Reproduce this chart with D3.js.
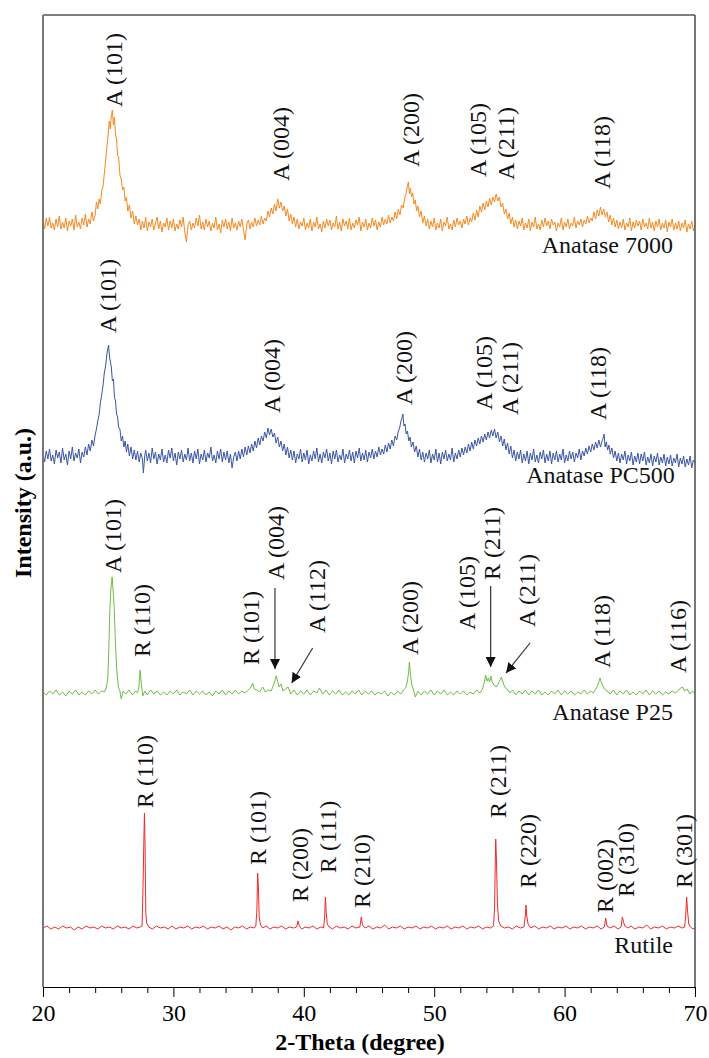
<!DOCTYPE html>
<html>
<head>
<meta charset="utf-8">
<script src="https://cdn.jsdelivr.net/npm/d3@7"></script>
<style>
  body { margin: 0; background: #fff; }
  text { font-family: "Liberation Serif", "Times New Roman", serif; }
</style>
</head>
<body>
<div id="chart"></div>
<script>
// 2-theta (degree) and intensity (a.u., already stacked)
const anatase7000 = [
[20,767],[20.125,758],[20.25,769],[20.375,761],[20.5,770],[20.625,759],[20.75,764],[20.875,757],[21,768],[21.125,760],
[21.25,771],[21.375,758],[21.5,765],[21.625,759],[21.75,769],[21.875,756],[22,766],[22.125,761],[22.25,768],[22.375,757],
[22.5,772],[22.625,760],[22.75,765],[22.875,758],[23,769],[23.125,762],[23.25,773],[23.375,760],[23.5,768],[23.625,763],
[23.75,775],[23.875,766],[24,772],[24.1,785],[24.2,778],[24.3,788],[24.4,783],[24.5,796],[24.6,800],[24.7,813],
[24.8,826],[24.9,840],[25,853],[25.08,866],[25.16,858],[25.24,871],[25.32,877],[25.4,862],[25.48,870],[25.56,852],
[25.64,848],[25.72,832],[25.8,830],[25.9,812],[26,808],[26.1,797],[26.2,800],[26.3,786],[26.4,790],[26.5,776],
[26.625,782],[26.75,769],[26.875,776],[27,763],[27.125,771],[27.25,762],[27.375,768],[27.5,757],[27.625,766],[27.75,759],
[27.875,770],[28,756],[28.125,765],[28.25,760],[28.375,768],[28.5,757],[28.625,764],[28.75,770],[28.875,758],[29,766],
[29.125,755],[29.25,764],[29.375,760],[29.5,769],[29.625,757],[29.75,766],[29.875,759],[30,768],[30.125,756],[30.25,763],
[30.375,758],[30.5,767],[30.625,760],[30.75,770],[30.875,755],[31,745],[31.125,762],[31.25,766],[31.375,757],[31.5,764],
[31.625,759],[31.75,769],[31.875,761],[32,772],[32.125,758],[32.25,765],[32.375,757],[32.5,768],[32.625,760],[32.75,766],
[32.875,756],[33,764],[33.125,759],[33.25,770],[33.375,757],[33.5,763],[33.625,754],[33.75,767],[33.875,760],[34,768],
[34.125,758],[34.25,765],[34.375,756],[34.5,769],[34.625,759],[34.75,764],[34.875,757],[35,766],[35.125,760],[35.25,768],
[35.375,757],[35.5,747],[35.625,763],[35.75,767],[35.875,758],[36,765],[36.125,760],[36.25,769],[36.375,761],[36.5,767],
[36.625,762],[36.75,771],[36.875,763],[37,769],[37.125,766],[37.25,776],[37.375,770],[37.5,779],[37.625,773],[37.75,783],
[37.875,776],[38,788],[38.125,779],[38.25,785],[38.375,776],[38.5,781],[38.625,771],[38.75,778],[38.875,766],[39,773],
[39.125,763],[39.25,770],[39.375,760],[39.5,768],[39.625,758],[39.75,765],[39.875,761],[40,769],[40.125,757],[40.25,764],
[40.375,759],[40.5,768],[40.625,756],[40.75,765],[40.875,760],[41,770],[41.125,758],[41.25,763],[41.375,755],[41.5,766],
[41.625,759],[41.75,768],[41.875,761],[42,767],[42.125,757],[42.25,764],[42.375,760],[42.5,771],[42.625,758],[42.75,765],
[42.875,756],[43,768],[43.125,761],[43.25,766],[43.375,758],[43.5,769],[43.625,757],[43.75,764],[43.875,759],[44,767],
[44.125,762],[44.25,770],[44.375,756],[44.5,765],[44.625,760],[44.75,768],[44.875,757],[45,764],[45.125,759],[45.25,769],
[45.375,761],[45.5,767],[45.625,757],[45.75,765],[45.875,760],[46,770],[46.125,762],[46.25,768],[46.375,763],[46.5,772],
[46.625,764],[46.75,770],[46.875,766],[47,775],[47.125,768],[47.25,778],[47.375,772],[47.5,782],[47.625,779],[47.75,790],
[47.85,794],[47.95,801],[48.02,805],[48.1,793],[48.18,799],[48.26,790],[48.35,794],[48.45,783],[48.55,787],[48.65,776],
[48.75,781],[48.875,770],[49,776],[49.125,764],[49.25,771],[49.375,761],[49.5,768],[49.625,758],[49.75,766],[49.875,760],
[50,769],[50.125,757],[50.25,764],[50.375,759],[50.5,768],[50.625,756],[50.75,765],[50.875,761],[51,770],[51.125,758],
[51.25,763],[51.375,757],[51.5,767],[51.625,760],[51.75,769],[51.875,762],[52,766],[52.125,759],[52.25,768],[52.375,763],
[52.5,771],[52.625,762],[52.75,769],[52.875,765],[53,774],[53.125,767],[53.25,777],[53.375,770],[53.5,781],[53.625,775],
[53.75,784],[53.875,777],[54,786],[54.125,780],[54.25,789],[54.375,782],[54.5,790],[54.625,785],[54.75,793],[54.875,786],
[55,790],[55.125,780],[55.25,784],[55.375,773],[55.5,778],[55.625,768],[55.75,774],[55.875,763],[56,770],[56.125,760],
[56.25,767],[56.375,758],[56.5,766],[56.625,761],[56.75,769],[56.875,757],[57,764],[57.125,759],[57.25,768],[57.375,756],
[57.5,765],[57.625,760],[57.75,770],[57.875,758],[58,763],[58.125,757],[58.25,767],[58.375,760],[58.5,769],[58.625,761],
[58.75,766],[58.875,758],[59,768],[59.125,762],[59.25,765],[59.375,756],[59.5,764],[59.625,760],[59.75,769],[59.875,757],
[60,765],[60.125,760],[60.25,768],[60.375,758],[60.5,764],[60.625,761],[60.75,770],[60.875,759],[61,766],[61.125,762],
[61.25,768],[61.375,760],[61.5,767],[61.625,763],[61.75,771],[61.875,764],[62,769],[62.125,766],[62.25,775],[62.375,768],
[62.5,777],[62.625,771],[62.75,780],[62.875,772],[63,778],[63.125,770],[63.25,775],[63.375,765],[63.5,772],[63.625,762],
[63.75,769],[63.875,760],[64,767],[64.125,758],[64.25,765],[64.375,759],[64.5,768],[64.625,757],[64.75,764],[64.875,760],
[65,769],[65.125,756],[65.25,765],[65.375,759],[65.5,767],[65.625,761],[65.75,766],[65.875,757],[66,768],[66.125,760],
[66.25,764],[66.375,758],[66.5,769],[66.625,759],[66.75,765],[66.875,756],[67,766],[67.125,760],[67.25,768],[67.375,757],
[67.5,764],[67.625,759],[67.75,767],[67.875,755],[68,765],[68.125,760],[68.25,768],[68.375,757],[68.5,764],[68.625,758],
[68.75,766],[68.875,756],[69,764],[69.125,759],[69.25,767],[69.375,755],[69.5,763],[69.625,758],[69.75,766],[69.875,756],
[70,762]
];

const anatasePC500 = [
[20,534],[20.125,525],[20.25,536],[20.375,528],[20.5,538],[20.625,526],[20.75,532],[20.875,523],[21,537],[21.125,529],
[21.25,535],[21.375,524],[21.5,539],[21.625,527],[21.75,533],[21.875,522],[22,536],[22.125,528],[22.25,540],[22.375,526],
[22.5,534],[22.625,529],[22.75,538],[22.875,524],[23,535],[23.125,530],[23.25,540],[23.375,532],[23.5,543],[23.625,536],
[23.75,547],[23.875,541],[24,552],[24.1,558],[24.2,566],[24.3,572],[24.4,584],[24.5,592],[24.6,601],[24.7,614],
[24.8,621],[24.9,633],[24.97,638],[25.03,642],[25.1,630],[25.17,625],[25.24,620],[25.32,606],[25.4,608],[25.48,590],
[25.56,586],[25.64,573],[25.72,570],[25.8,560],[25.9,558],[26,546],[26.1,551],[26.2,540],[26.3,546],[26.4,535],
[26.5,543],[26.625,531],[26.75,540],[26.875,528],[27,537],[27.125,527],[27.25,536],[27.375,525],[27.5,534],[27.625,528],
[27.7,514],[27.8,531],[27.875,537],[28,526],[28.125,534],[28.25,524],[28.375,539],[28.5,528],[28.625,535],[28.75,523],
[28.875,533],[29,527],[29.125,538],[29.25,525],[29.375,532],[29.5,524],[29.625,537],[29.75,529],[29.875,539],[30,526],
[30.125,534],[30.25,522],[30.375,535],[30.5,528],[30.625,537],[30.75,525],[30.875,533],[31,527],[31.125,539],[31.25,526],
[31.375,534],[31.5,524],[31.625,536],[31.75,528],[31.875,538],[32,523],[32.125,533],[32.25,527],[32.375,537],[32.5,525],
[32.625,534],[32.75,529],[32.875,540],[33,526],[33.125,532],[33.25,524],[33.375,536],[33.5,528],[33.625,538],[33.75,525],
[33.875,535],[34,527],[34.125,536],[34.25,524],[34.375,533],[34.5,519],[34.625,530],[34.75,535],[34.875,526],[35,536],
[35.125,528],[35.25,538],[35.375,530],[35.5,540],[35.625,532],[35.75,541],[35.875,534],[36,543],[36.125,536],[36.25,546],
[36.375,539],[36.5,549],[36.625,542],[36.75,551],[36.875,546],[37,555],[37.125,549],[37.25,559],[37.375,552],[37.5,558],
[37.625,550],[37.75,554],[37.875,544],[38,550],[38.125,540],[38.25,546],[38.375,536],[38.5,543],[38.625,532],[38.75,540],
[38.875,529],[39,537],[39.125,527],[39.25,536],[39.375,524],[39.5,533],[39.625,528],[39.75,538],[39.875,525],[40,534],
[40.125,527],[40.25,537],[40.375,523],[40.5,532],[40.625,526],[40.75,536],[40.875,528],[41,539],[41.125,525],[41.25,533],
[41.375,524],[41.5,535],[41.625,529],[41.75,538],[41.875,526],[42,534],[42.125,523],[42.25,536],[42.375,528],[42.5,537],
[42.625,525],[42.75,532],[42.875,527],[43,538],[43.125,524],[43.25,533],[43.375,528],[43.5,537],[43.625,526],[43.75,535],
[43.875,524],[44,536],[44.125,529],[44.25,539],[44.375,526],[44.5,534],[44.625,527],[44.75,537],[44.875,525],[45,535],
[45.125,529],[45.25,538],[45.375,528],[45.5,536],[45.625,530],[45.75,540],[45.875,532],[46,538],[46.125,533],[46.25,542],
[46.375,535],[46.5,544],[46.625,538],[46.75,547],[46.875,541],[47,551],[47.125,547],[47.25,556],[47.35,559],[47.45,566],
[47.53,569],[47.6,573],[47.68,561],[47.76,563],[47.85,553],[47.95,556],[48.05,546],[48.15,550],[48.25,540],[48.375,545],
[48.5,535],[48.625,541],[48.75,530],[48.875,538],[49,527],[49.125,535],[49.25,525],[49.375,534],[49.5,528],[49.625,537],
[49.75,524],[49.875,533],[50,527],[50.125,538],[50.25,525],[50.375,534],[50.5,523],[50.625,535],[50.75,528],[50.875,537],
[51,526],[51.125,533],[51.25,527],[51.375,539],[51.5,525],[51.625,534],[51.75,528],[51.875,537],[52,530],[52.125,539],
[52.25,532],[52.375,540],[52.5,534],[52.625,543],[52.75,536],[52.875,545],[53,538],[53.125,547],[53.25,541],[53.375,549],
[53.5,543],[53.625,551],[53.75,545],[53.875,553],[54,547],[54.125,555],[54.25,549],[54.375,557],[54.5,551],[54.625,558],
[54.75,549],[54.875,555],[55,545],[55.125,551],[55.25,541],[55.375,548],[55.5,537],[55.625,544],[55.75,533],[55.875,541],
[56,529],[56.125,537],[56.25,526],[56.375,535],[56.5,528],[56.625,537],[56.75,524],[56.875,533],[57,526],[57.125,536],
[57.25,523],[57.375,534],[57.5,527],[57.625,538],[57.75,525],[57.875,532],[58,524],[58.125,535],[58.25,528],[58.375,537],
[58.5,524],[58.625,533],[58.75,526],[58.875,536],[59,523],[59.125,534],[59.25,527],[59.375,536],[59.5,525],[59.625,533],
[59.75,527],[59.875,538],[60,524],[60.125,532],[60.25,526],[60.375,536],[60.5,528],[60.625,535],[60.75,525],[60.875,534],
[61,529],[61.125,538],[61.25,527],[61.375,536],[61.5,531],[61.625,539],[61.75,533],[61.875,541],[62,535],[62.125,543],
[62.25,537],[62.375,545],[62.5,539],[62.625,547],[62.75,540],[62.875,546],[62.96,549],[63.03,553],[63.1,540],[63.2,545],
[63.3,537],[63.4,542],[63.5,533],[63.625,539],[63.75,529],[63.875,536],[64,526],[64.125,534],[64.25,524],[64.375,533],
[64.5,527],[64.625,536],[64.75,523],[64.875,532],[65,526],[65.125,535],[65.25,522],[65.375,531],[65.5,525],[65.625,534],
[65.75,523],[65.875,533],[66,526],[66.125,535],[66.25,522],[66.375,530],[66.5,524],[66.625,533],[66.75,521],[66.875,531],
[67,525],[67.125,534],[67.25,522],[67.375,530],[67.5,524],[67.625,533],[67.75,521],[67.875,530],[68,523],[68.125,532],
[68.25,521],[68.375,529],[68.5,524],[68.625,533],[68.75,520],[68.875,529],[69,523],[69.125,531],[69.25,520],[69.375,528],
[69.5,522],[69.625,531],[69.75,519],[69.875,527],[70,524]
];

const anataseP25 = [
[20,295],[20.25,292],[20.5,296],[20.75,293],[21,297],[21.25,292],[21.5,295],[21.75,291],[22,296],[22.25,293],
[22.5,297],[22.75,292],[23,295],[23.25,292],[23.5,296],[23.75,293],[24,297],[24.25,293],[24.5,296],[24.7,295],
[24.85,299],[24.97,308],[25.05,340],[25.12,374],[25.2,397],[25.3,410],[25.38,396],[25.46,380],[25.55,345],[25.65,318],
[25.78,300],[25.9,296],[26,288],[26.15,296],[26.35,293],[26.6,297],[26.85,292],[27.1,296],[27.25,294],[27.35,300],
[27.45,317],[27.55,302],[27.65,291],[27.8,296],[28,292],[28.25,297],[28.5,293],[28.75,296],[29,292],[29.25,295],
[29.5,292],[29.75,296],[30,293],[30.25,297],[30.5,292],[30.75,295],[31,293],[31.25,297],[31.5,292],[31.75,296],
[32,293],[32.25,296],[32.5,292],[32.75,295],[33,291],[33.25,296],[33.5,293],[33.75,297],[34,292],[34.25,296],
[34.5,293],[34.75,297],[35,293],[35.25,296],[35.5,294],[35.75,297],[35.92,299],[36.08,304],[36.2,298],[36.4,297],
[36.6,295],[36.85,300],[37.05,295],[37.3,297],[37.5,296],[37.65,301],[37.78,306],[37.87,311],[37.97,307],[38.1,300],
[38.25,303],[38.4,296],[38.6,298],[38.8,300],[39,293],[39.25,297],[39.5,292],[39.75,296],[40,293],[40.25,297],
[40.5,292],[40.75,296],[41,294],[41.2,299],[41.45,293],[41.7,297],[41.95,292],[42.2,296],[42.45,293],[42.7,297],
[42.95,292],[43.2,295],[43.45,292],[43.7,296],[43.95,293],[44.2,297],[44.45,292],[44.7,296],[44.95,293],[45.2,296],
[45.45,292],[45.7,295],[45.95,293],[46.2,296],[46.45,291],[46.7,295],[46.95,292],[47.2,296],[47.45,293],[47.65,297],
[47.82,299],[47.95,306],[48.03,314],[48.1,325],[48.18,313],[48.28,302],[48.4,298],[48.55,290],[48.75,296],[49,292],
[49.25,296],[49.5,293],[49.75,297],[50,292],[50.25,296],[50.5,293],[50.75,297],[51,292],[51.25,295],[51.5,292],
[51.75,296],[52,293],[52.25,296],[52.5,292],[52.75,295],[53,293],[53.25,297],[53.5,294],[53.7,298],[53.85,305],
[53.95,312],[54.05,306],[54.15,309],[54.25,305],[54.35,311],[54.45,305],[54.6,302],[54.75,300],[54.9,303],[55.05,307],
[55.15,310],[55.25,306],[55.4,300],[55.6,298],[55.8,294],[56,297],[56.25,292],[56.5,296],[56.75,293],[57,297],
[57.25,292],[57.5,296],[57.75,293],[58,297],[58.25,292],[58.5,295],[58.75,292],[59,296],[59.25,293],[59.5,297],
[59.75,292],[60,296],[60.25,293],[60.5,296],[60.75,292],[61,295],[61.25,293],[61.5,297],[61.75,293],[62,296],
[62.2,294],[62.4,298],[62.55,302],[62.65,306],[62.72,309],[62.8,305],[62.92,302],[63.05,298],[63.25,296],[63.5,293],
[63.75,297],[64,292],[64.25,296],[64.5,293],[64.75,297],[65,292],[65.25,295],[65.5,292],[65.75,296],[66,293],
[66.25,297],[66.5,292],[66.75,296],[67,293],[67.25,296],[67.5,292],[67.75,295],[68,293],[68.25,296],[68.5,294],
[68.75,297],[68.9,299],[69.05,300],[69.2,296],[69.4,298],[69.6,293],[69.8,296],[70,294]
];

const rutile = [
[20,59],[20.3,61],[20.6,58],[20.9,60],[21.2,58],[21.5,61],[21.8,59],[22.1,60],[22.4,57],[22.7,60],
[23,58],[23.3,61],[23.6,59],[23.9,60],[24.2,58],[24.5,61],[24.8,59],[25.1,60],[25.4,58],[25.7,61],
[26,59],[26.3,60],[26.6,58],[26.9,61],[27.2,59],[27.45,60],[27.6,61],[27.68,107],[27.74,150],[27.78,174],
[27.83,140],[27.88,75],[27.95,64],[28.1,60],[28.4,58],[28.7,61],[29,59],[29.3,60],[29.6,58],[29.9,61],
[30.2,58],[30.5,60],[30.8,59],[31.1,61],[31.4,58],[31.7,60],[32,59],[32.3,61],[32.6,58],[32.9,60],
[33.2,59],[33.5,61],[33.8,58],[34.1,60],[34.4,57],[34.7,60],[35,59],[35.3,61],[35.6,58],[35.9,60],
[36.2,59],[36.32,61],[36.4,76],[36.46,114],[36.52,100],[36.58,70],[36.68,62],[36.85,59],[37.1,61],[37.4,58],
[37.7,60],[38,59],[38.3,61],[38.6,58],[38.9,60],[39.2,59],[39.45,60],[39.56,66],[39.66,61],[39.85,58],
[40.1,60],[40.4,59],[40.7,61],[41,58],[41.3,60],[41.52,59],[41.6,70],[41.66,90],[41.72,74],[41.8,63],
[41.95,60],[42.2,58],[42.5,61],[42.8,59],[43.1,60],[43.4,58],[43.7,61],[44,59],[44.3,60],[44.41,70],
[44.5,62],[44.7,59],[45,61],[45.3,58],[45.6,60],[45.9,59],[46.2,62],[46.5,58],[46.8,60],[47.1,59],
[47.4,61],[47.7,58],[48,60],[48.3,59],[48.6,61],[48.9,58],[49.2,60],[49.5,59],[49.8,61],[50.1,58],
[50.4,60],[50.7,59],[51,61],[51.3,58],[51.6,60],[51.9,59],[52.2,61],[52.5,58],[52.8,60],[53.1,59],
[53.4,61],[53.7,58],[54,60],[54.3,59],[54.55,61],[54.63,80],[54.68,122],[54.72,148],[54.78,125],[54.85,82],
[54.95,66],[55.1,61],[55.4,59],[55.7,60],[56,58],[56.3,61],[56.6,59],[56.88,60],[56.98,70],[57.04,82],
[57.1,71],[57.2,63],[57.4,59],[57.7,61],[58,58],[58.3,60],[58.6,59],[58.9,61],[59.2,58],[59.5,60],
[59.8,59],[60.1,61],[60.4,58],[60.7,60],[61,59],[61.3,61],[61.6,58],[61.9,60],[62.2,59],[62.5,61],
[62.8,58],[63.05,60],[63.15,69],[63.25,61],[63.5,59],[63.8,61],[64.1,58],[64.33,60],[64.43,70],[64.52,65],
[64.62,61],[64.85,59],[65.1,61],[65.4,58],[65.7,60],[66,59],[66.3,62],[66.6,58],[66.9,60],[67.2,59],
[67.5,61],[67.8,58],[68.1,60],[68.4,59],[68.7,61],[69,59],[69.2,60],[69.28,70],[69.36,90],[69.43,76],
[69.52,63],[69.65,60],[69.85,58],[70,59]
];

// peak labels: text, 2-theta, intensity at the foot of the text
const labels7000 = [
["A (101)",25.41,880],["A (004)",38.25,806],["A (200)",48.18,820],
["A (105)",53.36,810],["A (211)",55.51,807],["A (118)",62.83,798]
];
const labelsPC500 = [
["A (101)",24.98,654],["A (004)",37.52,574],["A (200)",47.68,582],
["A (105)",53.82,577],["A (211)",55.77,572],["A (118)",62.52,567]
];
const labelsP25 = [
["A (101)",25.33,414],["R (110)",27.57,330],["R (101)",35.95,322],["A (004)",37.87,407],
["A (112)",40.99,354],["A (200)",48.11,332],["A (105)",52.49,357],["R (211)",54.39,407],
["A (211)",57.12,360],["A (118)",62.87,319],["A (116)",68.66,314]
];
const labelsRutile = [
["R (110)",27.8,179],["R (101)",36.49,122],["R (200)",39.71,85],["R (111)",41.82,114],
["R (210)",44.46,79],["R (211)",54.89,169],["R (220)",57.15,99],["R (002)",63.1,74],
["R (310)",64.71,90],["R (301)",69.16,99]
];
// arrows in the P25 pattern: from (2-theta, a.u.) to (2-theta, a.u.)
const arrowsP25 = [
[37.79,399,37.79,318],[40.68,339,39.07,304],[54.33,401,54.33,320],[57.35,344,55.51,314]
];

const sampleNames = ["Anatase 7000","Anatase PC500","Anatase P25","Rutile"];
const nameAnchor = [[68.31,734],[68.45,504],[68.31,267],[68.31,34]];
const colors = ["#f7891f","#3b55a5","#6cbd45","#ee2a2b"];

const majorTicks = [20,30,40,50,60,70];
const minorTicks = [22,24,26,28,32,34,36,38,42,44,46,48,52,54,56,58,62,64,66,68];

const margin = {top: 15, right: 14, bottom: 71, left: 43},
width = 709 - margin.left - margin.right,
height = 1058 - margin.top - margin.bottom;

const root = d3.select("#chart")
.append("svg")
.attr("width", 709)
.attr("height", 1058);

const svg = root.append("g")
.attr("transform", `translate(${margin.left},${margin.top})`);

const x = d3.scaleLinear().domain([20,70]).range([0,width]);
const y = d3.scaleLinear().domain([0,972]).range([height,0]);

// patterns
const line = d3.line().x(d => x(d[0])).y(d => y(d[1]));
[anatase7000, anatasePC500, anataseP25, rutile].forEach((s, i) => {
svg.append("path")
.datum(s)
.attr("d", line)
.attr("fill", "none")
.attr("stroke", colors[i])
.attr("stroke-width", 1)
.attr("stroke-linejoin", "round");
});

// frame
svg.append("line").attr("x1",0).attr("x2",width).attr("y1",0).attr("y2",0)
.attr("stroke","#000").attr("stroke-width",1);
svg.append("line").attr("x1",0).attr("x2",0).attr("y1",0).attr("y2",height)
.attr("stroke","#777").attr("stroke-width",2);
svg.append("line").attr("x1",width).attr("x2",width).attr("y1",0).attr("y2",height)
.attr("stroke","#555").attr("stroke-width",1.6);

// x axis
const xAxis = svg.append("g")
.attr("transform", `translate(0,${height})`)
.call(d3.axisBottom(x).tickValues(majorTicks).tickSize(10).tickSizeOuter(0).tickPadding(7).tickFormat(d3.format("d")));
xAxis.attr("font-size", 24).attr("font-family", "'Liberation Serif', 'Times New Roman', serif");
xAxis.selectAll("text").attr("fill", "#000");

const xMinor = svg.append("g")
.attr("transform", `translate(0,${height})`)
.call(d3.axisBottom(x).tickValues(minorTicks).tickSize(6).tickFormat(""));
xMinor.select(".domain").remove();

// peak labels
const allLabels = [labels7000, labelsPC500, labelsP25, labelsRutile].flat();
svg.selectAll(".peak")
.data(allLabels)
.enter()
.append("text")
.attr("class", "peak")
.attr("transform", d => `translate(${x(d[1])},${y(d[2])}) rotate(-90)`)
.attr("dy", "0.35em")
.attr("font-size", 24)
.attr("fill", "#111")
.text(d => d[0]);

// sample names
svg.selectAll(".name")
.data(sampleNames)
.enter()
.append("text")
.attr("class", "name")
.attr("x", (d, i) => x(nameAnchor[i][0]))
.attr("y", (d, i) => y(nameAnchor[i][1]))
.attr("text-anchor", "end")
.attr("font-size", 24)
.attr("fill", "#111")
.text(d => d);

// arrows
root.append("defs").append("marker")
.attr("id", "head")
.attr("viewBox", "0 0 10 10")
.attr("refX", 10).attr("refY", 5)
.attr("markerWidth", 10).attr("markerHeight", 10)
.attr("markerUnits", "userSpaceOnUse")
.attr("orient", "auto")
.append("path")
.attr("d", "M0,0L10,5L0,10Z")
.attr("fill", "#111");

svg.selectAll(".arrow")
.data(arrowsP25)
.enter()
.append("line")
.attr("class", "arrow")
.attr("x1", d => x(d[0])).attr("y1", d => y(d[1]))
.attr("x2", d => x(d[2])).attr("y2", d => y(d[3]))
.attr("stroke", "#333")
.attr("stroke-width", 1.2)
.attr("marker-end", "url(#head)");

// axis titles
root.append("text")
.attr("x", 360)
.attr("y", 1050)
.attr("text-anchor", "middle")
.attr("font-size", 24)
.attr("font-weight", "bold")
.text("2-Theta (degree)");

root.append("text")
.attr("transform", "translate(31,503) rotate(-90)")
.attr("text-anchor", "middle")
.attr("font-size", 24)
.attr("font-weight", "bold")
.text("Intensity (a.u.)");
</script>
</body>
</html>
